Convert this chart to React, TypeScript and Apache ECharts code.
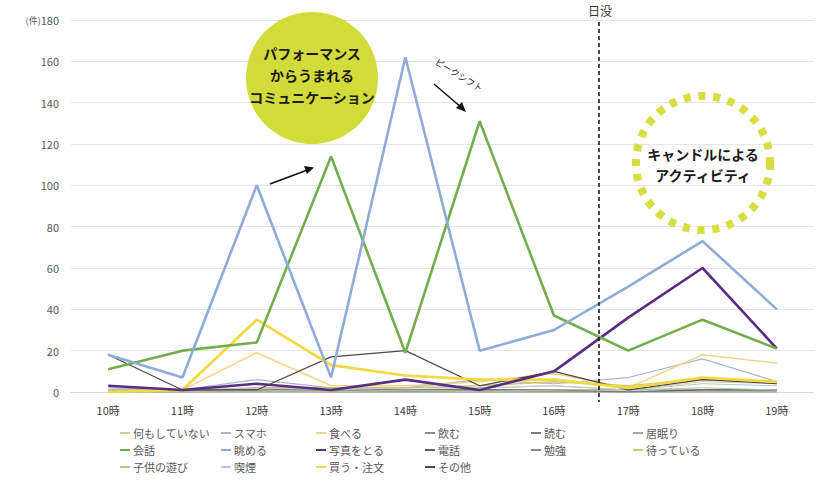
import React, { useEffect, useRef } from "react";
import * as echarts from "echarts";

const hours = ["10時", "11時", "12時", "13時", "14時", "15時", "16時", "17時", "18時", "19時"];
const yTicks = { min: 0, max: 180, interval: 20 };

const nothing = [1, 0, 2, 1, 1, 2, 3, 1, 5, 4];
const phone = [2, 1, 6, 2, 2, 6, 4, 7, 16, 5];
const eat = [0, 1, 19, 3, 3, 5, 9, 2, 18, 14];
const drink = [0, 0, 1, 0, 0, 0, 0, 0, 1, 1];
const read = [1, 1, 1, 1, 1, 1, 1, 1, 1, 1];
const doze = [0, 0, 0, 0, 0, 0, 0, 0, 0, 0];
const talk = [11, 20, 24, 114, 19, 131, 37, 20, 35, 21];
const watch = [18, 7, 100, 7, 162, 20, 30, 51, 73, 40];
const photo = [3, 1, 4, 1, 6, 1, 10, 36, 60, 21];
const call = [1, 1, 1, 1, 1, 1, 1, 0, 1, 1];
const study = [0, 0, 0, 0, 0, 0, 0, 0, 0, 0];
const waiting = [1, 1, 2, 2, 2, 3, 5, 3, 6, 5];
const kids = [0, 0, 1, 0, 1, 0, 1, 1, 2, 1];
const smoke = [1, 1, 2, 1, 2, 2, 3, 1, 4, 3];
const buy = [0, 1, 35, 13, 8, 6, 6, 2, 7, 5];
const other = [18, 1, 1, 17, 20, 3, 10, 1, 6, 4];

const seriesDefs = [
  { name: "何もしていない", data: nothing, color: "#DCCB9C", w: 1 },
  { name: "スマホ", data: phone, color: "#A7B5CC", w: 1.2 },
  { name: "食べる", data: eat, color: "#EFD58C", w: 1.5 },
  { name: "飲む", data: drink, color: "#8A8A8A", w: 1 },
  { name: "読む", data: read, color: "#7A7A7A", w: 1 },
  { name: "居眠り", data: doze, color: "#A6A6A6", w: 1 },
  { name: "電話", data: call, color: "#5E5E5E", w: 1 },
  { name: "勉強", data: study, color: "#8C8C8C", w: 1 },
  { name: "待っている", data: waiting, color: "#CFC56A", w: 1.5 },
  { name: "子供の遊び", data: kids, color: "#A9CF8E", w: 1 },
  { name: "喫煙", data: smoke, color: "#BCC6D6", w: 1 },
  { name: "その他", data: other, color: "#4A4A4A", w: 1.2 },
  { name: "買う・注文", data: buy, color: "#F3D93F", w: 2.6 },
  { name: "写真をとる", data: photo, color: "#5B2C83", w: 2.6 },
  { name: "会話", data: talk, color: "#74AE4C", w: 2.6 },
  { name: "眺める", data: watch, color: "#8FACD6", w: 2.6 },
];

const legendColumns = [
  ["何もしていない", "会話", "子供の遊び"],
  ["スマホ", "眺める", "喫煙"],
  ["食べる", "写真をとる", "買う・注文"],
  ["飲む", "電話", "その他"],
  ["読む", "勉強"],
  ["居眠り", "待っている"],
];
const legendLefts = [120, 221, 316, 425, 531, 633];

const FONT = "'Noto Sans CJK JP', 'Noto Sans', sans-serif";

export default function App() {
  const ref = useRef<HTMLDivElement>(null);
  useEffect(() => {
    if (!ref.current) return;
    const chart = echarts.init(ref.current, undefined, { renderer: "svg" });
    const option: any = {
      animation: false,
      backgroundColor: "#ffffff",
      textStyle: { fontFamily: FONT },
      grid: { left: 71, right: 12, top: 20, bottom: 96 },
      xAxis: {
        type: "category",
        data: hours,
        boundaryGap: true,
        axisLine: { lineStyle: { color: "#D9D9D9" } },
        axisTick: { show: false },
        axisLabel: { color: "#404040", fontSize: 11, margin: 12, fontFamily: FONT },
      },
      yAxis: {
        type: "value",
        min: yTicks.min,
        max: yTicks.max,
        interval: yTicks.interval,
        axisLine: { show: false },
        axisTick: { show: false },
        splitLine: { lineStyle: { color: "#E6E6E6" } },
        axisLabel: {
          color: "#595959",
          fontSize: 11,
          margin: 12,
          fontFamily: FONT,
          formatter: (v: number) => (v === yTicks.max ? "{u|(件)}" + v : String(v)),
          rich: { u: { fontSize: 9, color: "#595959", fontFamily: FONT } },
        },
      },
      legend: legendColumns.map((col, i) => ({
        data: col,
        orient: "vertical",
        left: legendLefts[i],
        top: 427,
        itemGap: 5,
        itemWidth: 10,
        itemHeight: 2,
        icon: "rect",
        padding: 0,
        textStyle: { color: "#595959", fontSize: 11, lineHeight: 12, fontFamily: FONT, padding: [0, 0, 0, -2] },
        selectedMode: false,
      })),
      series: seriesDefs.map((s) => ({
        name: s.name,
        type: "line",
        data: s.data,
        symbol: "none",
        color: s.color,
        lineStyle: { color: s.color, width: s.w },
        itemStyle: { color: s.color },
      })),
      graphic: [
        {
          type: "text",
          left: 588,
          top: 4,
          style: { text: "日没", fontSize: 12, fill: "#333", fontFamily: FONT },
        },
        {
          type: "line",
          shape: { x1: 599, y1: 22, x2: 599, y2: 402 },
          style: { stroke: "#111", lineWidth: 1.5, lineDash: [4, 3] },
          z: 10,
        },
        {
          type: "circle",
          shape: { cx: 312, cy: 78, r: 66 },
          style: { fill: "#D3DB3B" },
          z: 20,
        },
        {
          type: "text",
          x: 312,
          y: 75,
          style: {
            text: "パフォーマンス\nからうまれる\nコミュニケーション",
            fontSize: 14,
            fontWeight: "bold",
            lineHeight: 22,
            fill: "#1a1a1a",
            align: "center",
            verticalAlign: "middle",
            fontFamily: FONT,
          },
          z: 21,
        },
        {
          type: "circle",
          shape: { cx: 703, cy: 163, r: 67 },
          style: { fill: "none", stroke: "#D6DE42", lineWidth: 8, lineDash: [7, 7.8] },
          z: 20,
        },
        {
          type: "text",
          x: 703,
          y: 164,
          style: {
            text: "キャンドルによる\nアクティビティ",
            fontSize: 14,
            fontWeight: "bold",
            lineHeight: 21,
            fill: "#1a1a1a",
            align: "center",
            verticalAlign: "middle",
            fontFamily: FONT,
          },
          z: 21,
        },
        {
          type: "line",
          shape: { x1: 270, y1: 184, x2: 310, y2: 169 },
          style: { stroke: "#111", lineWidth: 1.5 },
          z: 20,
        },
        {
          type: "polygon",
          shape: { points: [[314, 167.5], [304, 166], [307, 174]] },
          style: { fill: "#111" },
          z: 20,
        },
        {
          type: "line",
          shape: { x1: 434, y1: 84, x2: 462, y2: 108 },
          style: { stroke: "#111", lineWidth: 1.5 },
          z: 20,
        },
        {
          type: "polygon",
          shape: { points: [[466, 112], [456, 108], [462, 102]] },
          style: { fill: "#111" },
          z: 20,
        },
        {
          type: "text",
          x: 459,
          y: 75,
          rotation: -0.55,
          style: {
            text: "ピークシフト",
            fontSize: 9,
            fill: "#222",
            align: "center",
            verticalAlign: "middle",
            fontFamily: FONT,
          },
          z: 20,
        },
      ],
    };
    chart.setOption(option);
    return () => chart.dispose();
  }, []);
  return (
    <div
      ref={ref}
      style={{ position: "fixed", left: 0, top: 0, width: 826, height: 488 }}
    />
  );
}
